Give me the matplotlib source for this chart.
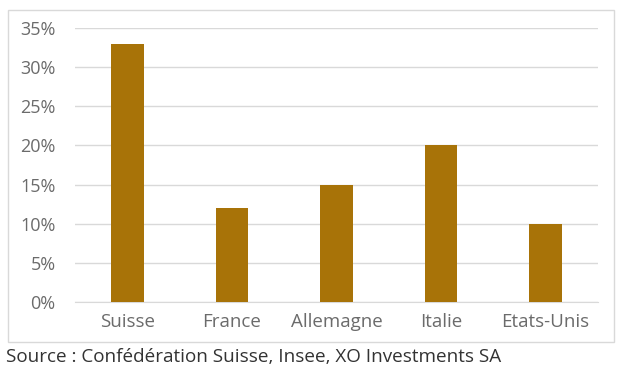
import matplotlib.pyplot as plt
from matplotlib.patches import Rectangle
from matplotlib.ticker import FuncFormatter

pays = ['Suisse', 'France', 'Allemagne', 'Italie', 'Etats-Unis']
parts = [0.33, 0.12, 0.15, 0.20, 0.10]
yticks = [0, 0.05, 0.10, 0.15, 0.20, 0.25, 0.30, 0.35]

plt.rcParams['font.family'] = ['Open Sans', 'DejaVu Sans']

fig = plt.figure(figsize=(6.26, 3.72), dpi=100)
ax = fig.add_axes([0.12, 0.188, 0.835, 0.737])

ax.bar(range(len(pays)), parts, width=0.31, color='#A87308', zorder=3)

ax.set_ylim(0, 0.35)
ax.set_xlim(-0.5, len(pays) - 0.5)
ax.set_yticks(yticks)
ax.yaxis.set_major_formatter(FuncFormatter(lambda v, p: f'{v*100:.0f}%'))
ax.set_xticks(range(len(pays)))
ax.set_xticklabels(pays)
ax.grid(axis='y', color='#d9d9d9', linewidth=1, zorder=0)
for s in ax.spines.values():
    s.set_visible(False)
ax.spines['bottom'].set_visible(True)
ax.spines['bottom'].set_color('#d9d9d9')
ax.tick_params(length=0, labelcolor='#6b6b6b')
ax.tick_params(axis='y', pad=14, labelsize=13)
ax.tick_params(axis='x', pad=8, labelsize=13.5)

# cadre autour du graphique
fig.patches.append(Rectangle((8/626, 1-342/372), 606/626, 332/372,
                             transform=fig.transFigure, fill=False,
                             edgecolor='#d9d9d9', linewidth=1))

fig.text(6/626, 1-357/372, 'Source : Confédération Suisse, Insee, XO Investments SA',
         fontsize=13.6, color='#333333', va='center', ha='left')

fig.savefig('out.png', dpi=100)
